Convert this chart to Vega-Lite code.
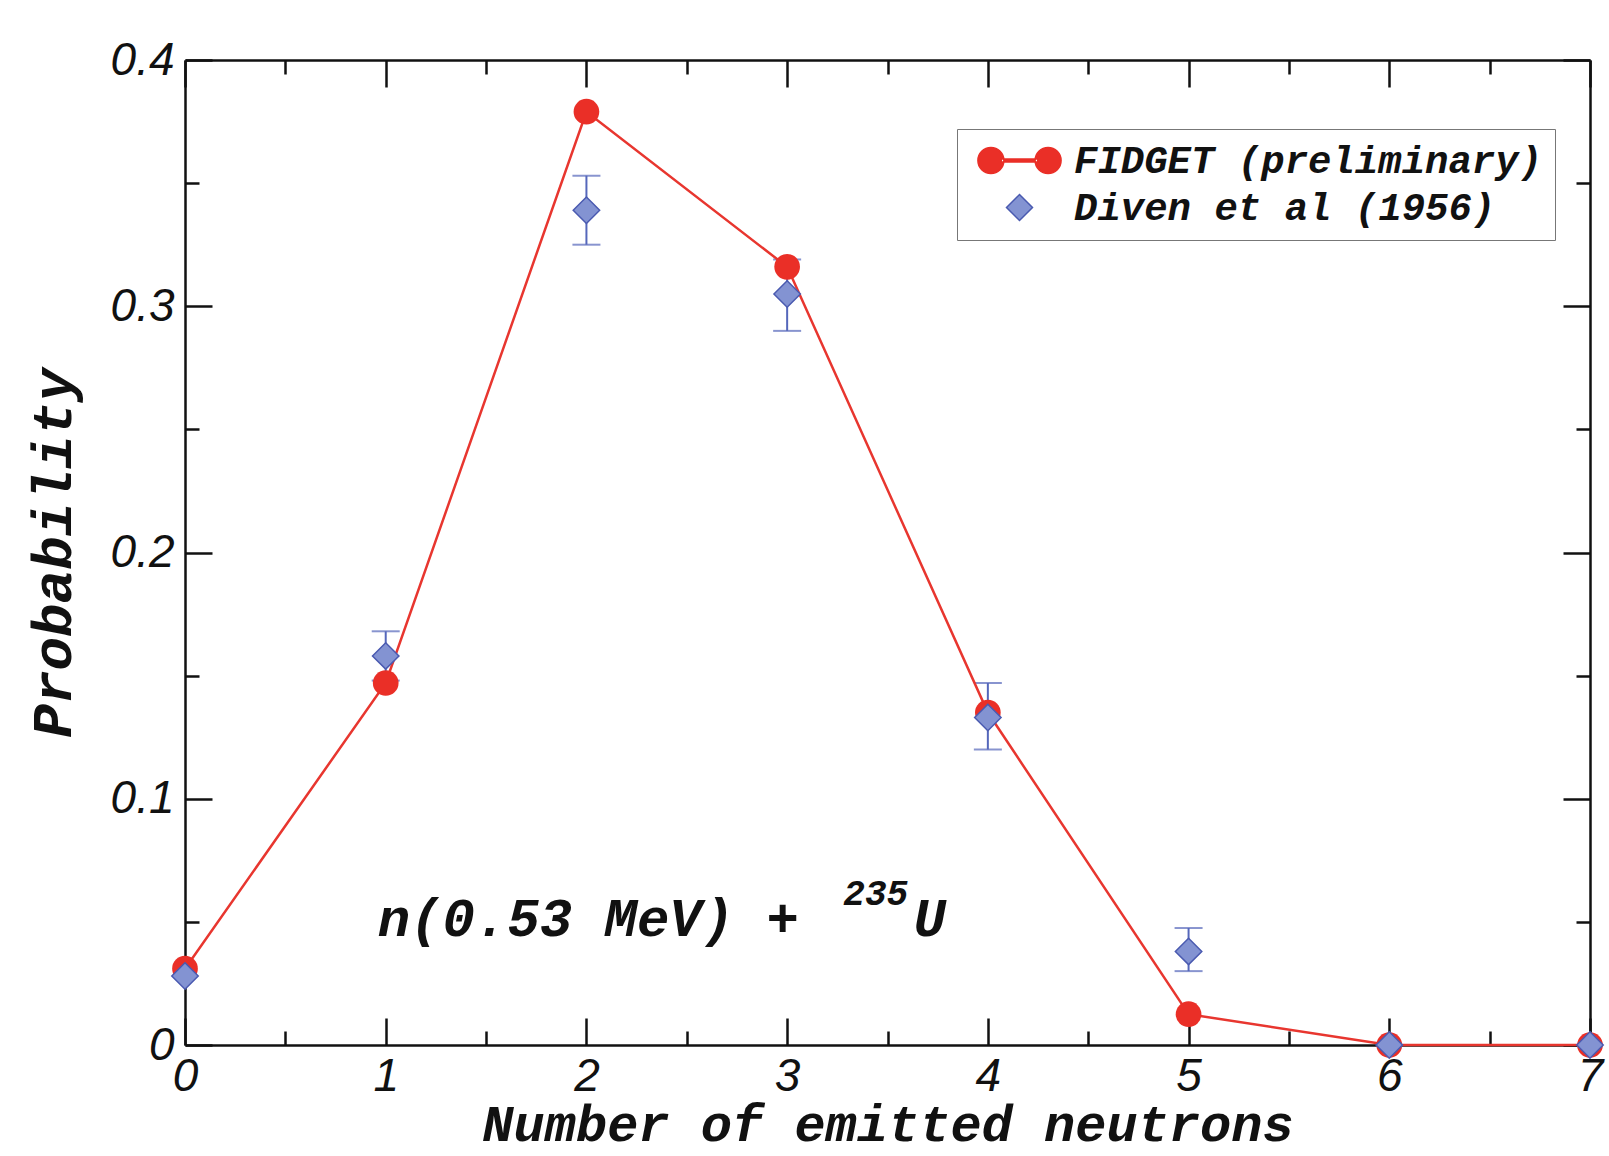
{
  "$schema": "https://vega.github.io/schema/vega-lite/v6.json",
  "width": 1405,
  "height": 985,
  "autosize": {"type": "none"},
  "padding": {"left": 185, "top": 60, "right": 19, "bottom": 111},
  "background": "white",
  "config": {
    "view": {"stroke": null},
    "axis": {
      "grid": false,
      "domainColor": "#111",
      "domainWidth": 2.5,
      "tickColor": "#111",
      "tickWidth": 2.5,
      "labelFont": "Liberation Sans",
      "labelFontStyle": "italic",
      "labelFontSize": 46,
      "labelColor": "#111",
      "labelFlush": false,
      "labelOverlap": false,
      "titleFont": "Liberation Mono",
      "titleFontWeight": "bold",
      "titleFontStyle": "italic",
      "titleFontSize": 56,
      "titleColor": "#111"
    },
    "legend": {
      "strokeColor": "#777",
      "fillColor": "white",
      "padding": 12,
      "labelFont": "Liberation Mono",
      "labelFontSize": 39,
      "labelFontStyle": "italic",
      "labelFontWeight": "bold",
      "labelColor": "#111",
      "labelLimit": 700,
      "symbolSize": 676,
      "symbolOffset": 31,
      "labelOffset": 35,
      "rowPadding": 7,
      "symbolStrokeWidth": 1.5
    }
  },
  "datasets": {
    "fidget": [
      {"n": 0, "p": 0.031, "series": "FIDGET (preliminary)"},
      {"n": 1, "p": 0.147, "series": "FIDGET (preliminary)"},
      {"n": 2, "p": 0.379, "series": "FIDGET (preliminary)"},
      {"n": 3, "p": 0.316, "series": "FIDGET (preliminary)"},
      {"n": 4, "p": 0.135, "series": "FIDGET (preliminary)"},
      {"n": 5, "p": 0.0125, "series": "FIDGET (preliminary)"},
      {"n": 6, "p": 0.0, "series": "FIDGET (preliminary)"},
      {"n": 7, "p": 0.0, "series": "FIDGET (preliminary)"}
    ],
    "diven": [
      {"n": 0, "p": 0.028, "lo": null, "hi": null, "series": "Diven et al (1956)"},
      {"n": 1, "p": 0.158, "lo": 0.148, "hi": 0.168, "series": "Diven et al (1956)"},
      {"n": 2, "p": 0.339, "lo": 0.325, "hi": 0.353, "series": "Diven et al (1956)"},
      {"n": 3, "p": 0.305, "lo": 0.290, "hi": 0.319, "series": "Diven et al (1956)"},
      {"n": 4, "p": 0.133, "lo": 0.120, "hi": 0.147, "series": "Diven et al (1956)"},
      {"n": 5, "p": 0.038, "lo": 0.030, "hi": 0.0475, "series": "Diven et al (1956)"},
      {"n": 6, "p": 0.0, "lo": null, "hi": null, "series": "Diven et al (1956)"},
      {"n": 7, "p": 0.0, "lo": null, "hi": null, "series": "Diven et al (1956)"}
    ],
    "note": [
      {"part": "main", "label": "n(0.53 MeV) +", "x": 0.96, "y": 0.0443},
      {"part": "sup", "label": "235", "x": 3.28, "y": 0.057},
      {"part": "main", "label": "U", "x": 3.63, "y": 0.0443}
    ]
  },
  "layer": [
    {
      "data": {"name": "diven"},
      "transform": [{"filter": "datum.lo != null"}],
      "mark": {
        "type": "errorbar",
        "ticks": {"size": 28, "thickness": 2, "color": "#5567bb"},
        "rule": {"strokeWidth": 2, "color": "#5567bb"}
      },
      "encoding": {
        "x": {"field": "n", "type": "quantitative", "scale": {"domain": [0, 7], "nice": false, "zero": false}, "axis": null},
        "y": {"field": "lo", "type": "quantitative", "scale": {"domain": [0, 0.4], "nice": false}, "axis": null},
        "y2": {"field": "hi"}
      }
    },
    {
      "data": {"name": "fidget"},
      "mark": {"type": "line", "color": "#e8362f", "strokeWidth": 2.5},
      "encoding": {
        "x": {"field": "n", "type": "quantitative", "scale": {"domain": [0, 7], "nice": false, "zero": false},
          "axis": {"orient": "bottom", "values": [0, 1, 2, 3, 4, 5, 6, 7], "format": "d", "tickSize": -27, "labelPadding": 36, "title": "Number of emitted neutrons", "titleFontSize": 52, "titlePadding": 0}},
        "y": {"field": "p", "type": "quantitative", "scale": {"domain": [0, 0.4], "nice": false},
          "axis": {"orient": "left", "values": [0, 0.1, 0.2, 0.3, 0.4], "format": ".1~f", "tickSize": -27, "labelPadding": 38, "title": "Probability", "titlePadding": 28}}
      }
    },
    {
      "data": {"name": "fidget"},
      "mark": {"type": "point", "shape": "circle", "filled": true, "size": 660, "opacity": 1},
      "encoding": {
        "x": {"field": "n", "type": "quantitative", "scale": {"domain": [0, 7], "nice": false, "zero": false},
          "axis": {"orient": "top", "values": [0, 1, 2, 3, 4, 5, 6, 7], "tickSize": -27, "labels": false, "title": null}},
        "y": {"field": "p", "type": "quantitative", "scale": {"domain": [0, 0.4], "nice": false},
          "axis": {"orient": "right", "values": [0, 0.1, 0.2, 0.3, 0.4], "tickSize": -27, "labels": false, "title": null}},
        "color": {"field": "series", "type": "nominal",
          "scale": {"domain": ["FIDGET (preliminary)", "Diven et al (1956)"], "range": ["#ea2f27", "#8393d2"]},
          "legend": {"title": null, "orient": "none", "legendX": 772, "legendY": 69}}
      }
    },
    {
      "data": {"name": "diven"},
      "mark": {"type": "point", "filled": true, "size": 700, "opacity": 1, "strokeWidth": 1.5},
      "encoding": {
        "x": {"field": "n", "type": "quantitative", "scale": {"domain": [0, 7], "nice": false, "zero": false},
          "axis": {"orient": "bottom", "values": [0.5, 1.5, 2.5, 3.5, 4.5, 5.5, 6.5], "tickSize": -14, "labels": false, "domain": false, "title": null}},
        "y": {"field": "p", "type": "quantitative", "scale": {"domain": [0, 0.4], "nice": false},
          "axis": {"orient": "left", "values": [0.05, 0.15, 0.25, 0.35], "tickSize": -14, "labels": false, "domain": false, "title": null}},
        "color": {"field": "series", "type": "nominal",
          "scale": {"domain": ["FIDGET (preliminary)", "Diven et al (1956)"], "range": ["#ea2f27", "#8393d2"]},
          "legend": {"title": null, "orient": "none", "legendX": 772, "legendY": 69}},
        "stroke": {"field": "series", "type": "nominal",
          "scale": {"domain": ["FIDGET (preliminary)", "Diven et al (1956)"], "range": ["#ea2f27", "#4a5ab0"]},
          "legend": {"title": null, "orient": "none", "legendX": 772, "legendY": 69}},
        "shape": {"field": "series", "type": "nominal",
          "scale": {"domain": ["FIDGET (preliminary)", "Diven et al (1956)"], "range": ["M -3.2 0 A 1 1 0 1 0 -1.2 0 A 1 1 0 1 0 -3.2 0 Z M 1.2 0 A 1 1 0 1 0 3.2 0 A 1 1 0 1 0 1.2 0 Z M -1.4 -0.12 L 1.4 -0.12 L 1.4 0.12 L -1.4 0.12 Z", "diamond"]},
          "legend": {"title": null, "orient": "none", "legendX": 772, "legendY": 69}}
      }
    },
    {
      "data": {"name": "note"},
      "mark": {"type": "text", "align": "left", "baseline": "alphabetic", "font": "Liberation Mono", "fontWeight": "bold", "fontStyle": "italic", "color": "#111"},
      "encoding": {
        "x": {"field": "x", "type": "quantitative", "scale": {"domain": [0, 7], "nice": false, "zero": false},
          "axis": {"orient": "top", "values": [0.5, 1.5, 2.5, 3.5, 4.5, 5.5, 6.5], "tickSize": -14, "labels": false, "domain": false, "title": null}},
        "y": {"field": "y", "type": "quantitative", "scale": {"domain": [0, 0.4], "nice": false},
          "axis": {"orient": "right", "values": [0.05, 0.15, 0.25, 0.35], "tickSize": -14, "labels": false, "domain": false, "title": null}},
        "text": {"field": "label"},
        "size": {"field": "part", "type": "nominal", "scale": {"domain": ["main", "sup"], "range": [54, 36]}, "legend": null}
      }
    }
  ],
  "resolve": {"axis": {"x": "independent", "y": "independent"}}
}
